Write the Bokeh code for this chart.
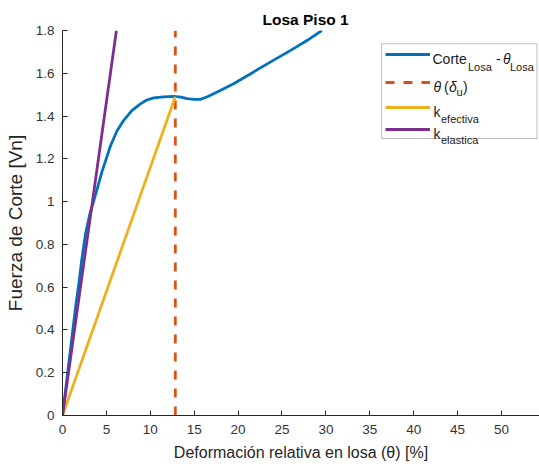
from bokeh.plotting import figure
from bokeh.models import (Range1d, FixedTicker, NumeralTickFormatter, Legend,
                          LegendItem, Label, BoxAnnotation)
from bokeh.embed import file_html
from bokeh.resources import INLINE

# ---- data ----
theta = [0.0, 0.5, 1.0, 1.5, 1.86, 2.2, 2.62, 3.1, 3.57, 4.5, 5.46, 6.2, 6.97,
         7.9, 8.87, 9.6, 10.39, 11.5, 12.66, 13.5, 14.19, 15.0, 15.7, 16.5,
         17.97, 19.49, 21.39, 23.66, 25.94, 27.84, 29.54]
V = [0.0, 0.17, 0.34, 0.51, 0.616, 0.73, 0.849, 0.94, 1.005, 1.14, 1.26, 1.33,
     1.38, 1.425, 1.457, 1.475, 1.485, 1.49, 1.492, 1.488, 1.482, 1.478, 1.478,
     1.49, 1.519, 1.551, 1.597, 1.652, 1.706, 1.753, 1.80]
theta_u_x = [12.85, 12.85]
theta_u_y = [0.0, 1.8]
k_efectiva_x = [0.0, 12.85]
k_efectiva_y = [0.0, 1.49]
k_elastica_x = [0.0, 6.14]
k_elastica_y = [0.0, 1.80]
x_ticks = [0, 5, 10, 15, 20, 25, 30, 35, 40, 45, 50]
y_ticks = [0, 0.2, 0.4, 0.6, 0.8, 1.0, 1.2, 1.4, 1.6, 1.8]

FONT = "Liberation Sans"
W, H = 539, 466
FL, FT, FB = 62, 30, 51   # frame borders (left, top, bottom)
FRAME_BOTTOM = H - FB

p = figure(width=W, height=H, x_range=Range1d(0, 54.33), y_range=Range1d(0, 1.8),
           output_backend="svg", toolbar_location=None,
           min_border_left=FL, min_border_right=0, min_border_top=FT,
           min_border_bottom=FB, title="Losa Piso 1")
p.outline_line_color = None
p.grid.visible = False
p.background_fill_color = "white"
p.border_fill_color = "white"

p.title.text_font = FONT
p.title.text_font_size = "15.5px"
p.title.text_font_style = "bold"
p.title.text_color = "black"
p.title.align = "left"
p.title.offset = 200
p.title.standoff = 6

for ax in (p.xaxis[0], p.yaxis[0]):
    ax.axis_line_color = "#262626"
    ax.major_tick_line_color = "#262626"
    ax.minor_tick_line_color = None
    ax.major_tick_in = 5
    ax.major_tick_out = 0
    ax.major_label_text_font = FONT
    ax.major_label_text_font_size = "13.5px"
    ax.major_label_text_color = "#333333"
    ax.axis_label_text_font = FONT
    ax.axis_label_text_font_style = "normal"
    ax.axis_label_text_color = "#262626"

p.xaxis.ticker = FixedTicker(ticks=x_ticks)
p.yaxis.ticker = FixedTicker(ticks=y_ticks)
p.yaxis.formatter = NumeralTickFormatter(format="0.[0]")
p.xaxis.axis_label = "Deformación relativa en losa (θ) [%]"
p.yaxis.axis_label = "Fuerza de Corte [Vn]"
p.xaxis.axis_label_text_font_size = "16px"
p.yaxis.axis_label_text_font_size = "19px"
p.xaxis.major_label_standoff = 9
p.xaxis.axis_label_standoff = 7
p.yaxis.major_label_standoff = 8
p.yaxis.axis_label_standoff = 7

BLUE, ORANGE, YELLOW, PURPLE = "#0072BD", "#D95319", "#EDB120", "#7E2F8E"

r1 = p.line(theta, V, line_width=2.8, color=BLUE, line_join="round")
r2 = p.line(theta_u_x, theta_u_y, line_width=2.8, color=ORANGE, line_dash="9 9")
r3 = p.line(k_efectiva_x, k_efectiva_y, line_width=2.8, color=YELLOW)
r4 = p.line(k_elastica_x, k_elastica_y, line_width=2.8, color=PURPLE)

# ---- legend (box, sample lines, texts with subscripts) ----
def sx(px):
    return px - FL

def sy(py):
    return FRAME_BOTTOM - py

box = BoxAnnotation(left=sx(381), right=sx(536.5), top=sy(43.3), bottom=sy(138),
                    left_units="screen", right_units="screen",
                    top_units="screen", bottom_units="screen",
                    fill_color="white", fill_alpha=1.0,
                    line_color="#262626", line_width=1, level="overlay")
p.add_layout(box)

GH = 16
for r, cy in ((r1, 54), (r2, 81.7), (r3, 107.3), (r4, 128.7)):
    leg = Legend(items=[LegendItem(label=" ", renderers=[r])],
                 location=(sx(385), sy(cy + GH / 2)),
                 glyph_width=45, glyph_height=GH, label_height=GH,
                 label_width=1, label_standoff=0, padding=0, margin=0,
                 spacing=0, border_line_color=None, background_fill_alpha=0,
                 label_text_font_size="1px", level="overlay")
    p.add_layout(leg)

pieces = [
    ("Corte", 432, 58.3, "14px", "normal"),
    ("Losa", 467.5, 66, "11px", "normal"),
    ("-", 495.5, 58.3, "14px", "normal"),
    ("θ", 502.5, 58.3, "14px", "italic"),
    ("Losa", 509.5, 66, "11px", "normal"),
    ("θ", 433, 86, "14px", "italic"),
    ("(", 443.5, 86, "14px", "normal"),
    ("δ", 448.5, 86, "14px", "italic"),
    ("u", 456, 91, "11px", "normal"),
    (")", 462.5, 86, "14px", "normal"),
    ("k", 433, 111.7, "14px", "normal"),
    ("efectiva", 440.5, 118.5, "11px", "normal"),
    ("k", 433, 133.5, "14px", "normal"),
    ("elastica", 440.5, 139.5, "11px", "normal"),
]
for txt, px, py, fs, st in pieces:
    p.add_layout(Label(x=sx(px), y=sy(py), x_units="screen", y_units="screen",
                       text=txt, text_font=FONT, text_font_size=fs,
                       text_font_style=st, text_color="#1a1a1a",
                       text_baseline="alphabetic", text_align="left",
                       level="overlay"))

open("out.html", "w").write(file_html(p, INLINE))
